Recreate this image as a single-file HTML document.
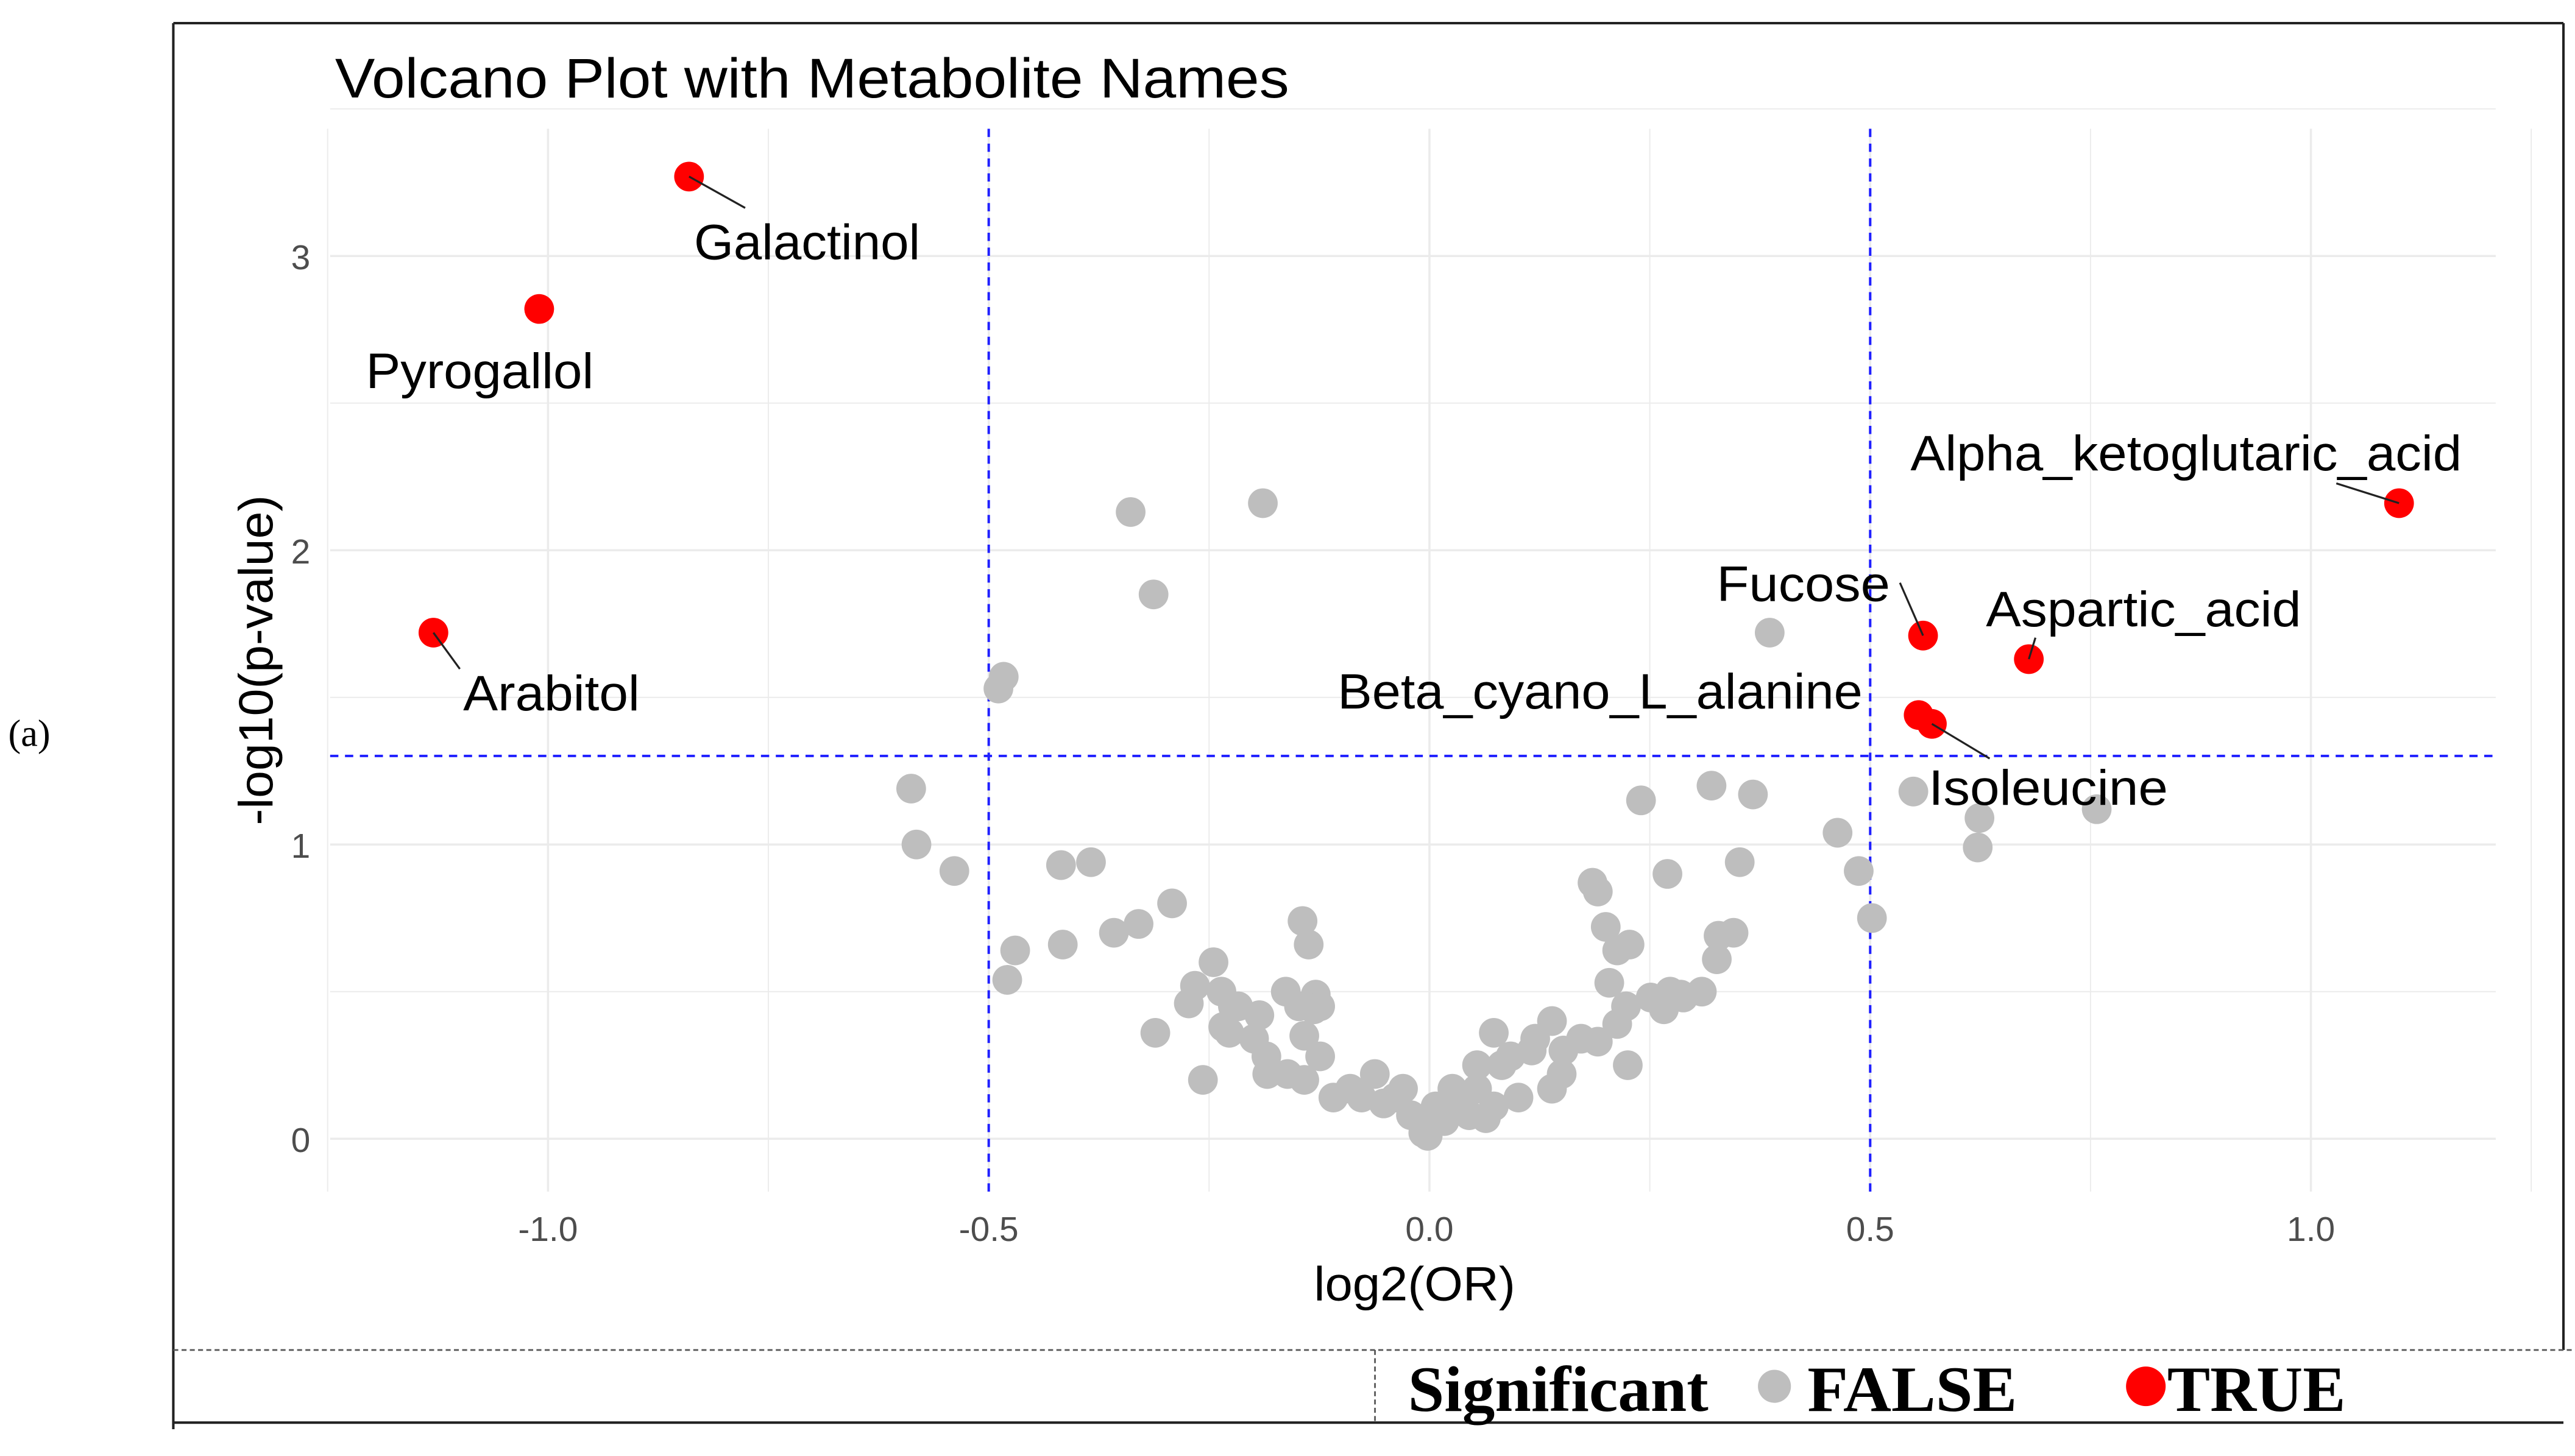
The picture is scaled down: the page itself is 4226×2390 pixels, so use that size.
<!DOCTYPE html>
<html><head><meta charset="utf-8"><style>
html,body{margin:0;padding:0;background:#fff;}
svg{display:block;}
</style></head><body>
<svg id="chart" xmlns="http://www.w3.org/2000/svg" width="4226" height="2390" viewBox="0 0 1560 882.2" font-family="'Liberation Sans', Arial, sans-serif">
<rect x="0" y="0" width="1560" height="882.2" fill="#fff"/>
<text x="5" y="452" font-family="'Liberation Serif', serif" font-size="23">(a)</text>
<line x1="105" y1="14" x2="1553" y2="14" stroke="#222" stroke-width="1.5"/>
<line x1="105" y1="14" x2="105" y2="866" stroke="#222" stroke-width="1.5"/>
<line x1="1553" y1="14" x2="1553" y2="818" stroke="#222" stroke-width="1.5"/>
<line x1="105" y1="818" x2="1560" y2="818" stroke="#555" stroke-width="1" stroke-dasharray="3,2"/>
<line x1="833" y1="818" x2="833" y2="862" stroke="#555" stroke-width="1" stroke-dasharray="3,2"/>
<line x1="105" y1="862" x2="1553" y2="862" stroke="#222" stroke-width="1.5"/>
<text x="203" y="59" font-size="34" textLength="578" lengthAdjust="spacingAndGlyphs">Volcano Plot with Metabolite Names</text>
<g id="grid"></g>
<g id="ticks"></g>
<g id="thresholds"></g>
<g id="points"></g>
<g id="labels"></g>
<text x="857" y="788" font-size="29" text-anchor="middle" textLength="122" lengthAdjust="spacingAndGlyphs">log2(OR)</text>
<text x="0" y="0" font-size="29" text-anchor="middle" transform="translate(165,400) rotate(-90)" textLength="200" lengthAdjust="spacingAndGlyphs">-log10(p-value)</text>
<g>
<text x="853" y="855" font-family="'Liberation Serif', serif" font-weight="bold" font-size="39" textLength="182" lengthAdjust="spacingAndGlyphs">Significant</text>
<circle cx="1075" cy="840" r="10" fill="#bebebe"/>
<text x="1095" y="855" font-family="'Liberation Serif', serif" font-weight="bold" font-size="39" textLength="127" lengthAdjust="spacingAndGlyphs">FALSE</text>
<circle cx="1300" cy="840" r="12" fill="#ff0000"/>
<text x="1313" y="855" font-family="'Liberation Serif', serif" font-weight="bold" font-size="39" textLength="108" lengthAdjust="spacingAndGlyphs">TRUE</text>
</g>
</svg>
<script>
const grayX=[-0.339,-0.189,-0.313,0.386,-0.483,-0.489,-0.588,-0.582,-0.539,0.320,0.367,0.240,0.549,0.463,0.487,0.352,0.502,0.624,0.622,0.757,-0.418,-0.384,-0.470,-0.479,-0.416,-0.358,-0.330,-0.292,-0.144,-0.137,0.185,0.191,0.270,0.328,0.345,0.200,0.213,0.227,0.204,0.223,0.309,0.326,0.251,0.266,0.285,0.225,0.191,0.139,0.150,0.116,0.101,0.073,0.054,0.026,0.021,0.007,-0.007,-0.021,-0.039,-0.062,-0.090,-0.109,-0.124,-0.142,-0.161,-0.184,-0.227,-0.223,-0.257,-0.273,-0.266,-0.245,-0.236,-0.217,-0.193,-0.199,-0.185,-0.148,-0.142,-0.129,-0.124,-0.234,-0.311,-0.163,-0.131,-0.002,0.017,0.045,0.064,0.082,0.092,0.120,0.152,0.172,0.213,0.139,0.288,0.273,0.036,0.054,0.073,0.007,-0.030,-0.052,-0.077];
const grayY=[2.13,2.16,1.85,1.72,1.57,1.53,1.19,1.00,0.91,1.20,1.17,1.15,1.18,1.04,0.91,0.94,0.75,1.09,0.99,1.12,0.93,0.94,0.64,0.54,0.66,0.70,0.73,0.80,0.74,0.66,0.87,0.84,0.90,0.69,0.70,0.72,0.64,0.66,0.53,0.45,0.50,0.61,0.48,0.44,0.49,0.25,0.33,0.17,0.22,0.30,0.14,0.36,0.25,0.17,0.11,0.06,0.02,0.08,0.14,0.22,0.17,0.14,0.28,0.20,0.22,0.22,0.36,0.45,0.20,0.46,0.52,0.60,0.50,0.45,0.42,0.34,0.28,0.45,0.35,0.49,0.45,0.38,0.36,0.50,0.44,0.01,0.06,0.08,0.07,0.25,0.28,0.34,0.30,0.34,0.39,0.40,0.48,0.50,0.14,0.17,0.11,0.11,0.17,0.12,0.14];
const sigNames=["Galactinol","Pyrogallol","Arabitol","Alpha_ketoglutaric_acid","Fucose","Aspartic_acid","Beta_cyano_L_alanine","Isoleucine"];
const sigX=[-0.84,-1.01,-1.13,1.10,0.56,0.68,0.555,0.57];
const sigY=[3.27,2.82,1.72,2.16,1.71,1.63,1.44,1.41];
const xTicks=[-1.0,-0.5,0.0,0.5,1.0];
const xTickLabels=["-1.0","-0.5","0.0","0.5","1.0"];
const yTicks=[0,1,2,3];
const yTickLabels=["0","1","2","3"];
const fcThreshold=0.5;
const pThreshold=1.301;

const NS="http://www.w3.org/2000/svg";
const X0=866, XS=534, Y0=690, YS=178.3;
const PL=200, PR=1512, PT=78, PB=722;
function sx(v){return X0+v*XS;}
function sy(v){return Y0-v*YS;}
function mk(tag,attrs,parent){const e=document.createElementNS(NS,tag);for(const k in attrs)e.setAttribute(k,attrs[k]);parent.appendChild(e);return e;}
const grid=document.getElementById('grid');
for(let v=-1.25;v<=1.2501;v+=0.25){
  const major=Math.abs(v*2-Math.round(v*2))<1e-6;
  const l=mk('line',{x1:sx(v),x2:sx(v),y1:PT,y2:PB,stroke:'#ebebeb','stroke-width':major?1.3:0.7},grid);
  
  
}
for(let v=0;v<=3.5;v+=0.5){
  const major=Number.isInteger(v);
  const l=mk('line',{x1:PL,x2:PR,y1:sy(v),y2:sy(v),stroke:'#ebebeb','stroke-width':major?1.3:0.7},grid);
  
  
}
const ticks=document.getElementById('ticks');
xTicks.forEach((v,i)=>{
  const t=mk('text',{x:sx(v),y:752,'text-anchor':'middle','font-size':21,fill:'#4d4d4d'},ticks);
  t.textContent=xTickLabels[i];
  
  
});
yTicks.forEach((v,i)=>{
  const t=mk('text',{x:188,y:sy(v)+8,'text-anchor':'end','font-size':21,fill:'#4d4d4d'},ticks);
  t.textContent=yTickLabels[i];
  
  
});
const th=document.getElementById('thresholds');
[-fcThreshold,fcThreshold].forEach(v=>{
  const l=mk('line',{x1:sx(v),x2:sx(v),y1:PT,y2:PB,stroke:'#2020ff','stroke-width':1.5,'stroke-dasharray':'5,4'},th);
  
  
});
const hl=mk('line',{x1:PL,x2:PR,y1:sy(pThreshold),y2:sy(pThreshold),stroke:'#2020ff','stroke-width':1.5,'stroke-dasharray':'5,4'},th);


const pts=document.getElementById('points');
grayX.forEach((v,i)=>{
  const c=mk('circle',{cx:sx(v),cy:sy(grayY[i]),r:9,fill:'#bebebe'},pts);
  
  
});
const lab=document.getElementById('labels');
const labelWidths=[137,138,107,334,105,191,318,145];
const lo=[[3,50,'start',[34,19]],[-105,48,'start',null],[18,47,'start',[16,22]],[-296,-20,'start',[-38,-12]],[-125,-21,'start',[-14,-32]],[-26,-20,'start',[4,-13]],[-34,-4,'end',null],[-2,49,'start',[35,21]]];
sigX.forEach((v,i)=>{
  const px=sx(v),py=sy(sigY[i]);
  const o=lo[i];
  if(o[3]){
    const l=mk('line',{x1:px,y1:py,x2:px+o[3][0],y2:py+o[3][1],stroke:'#222','stroke-width':1.2},lab);
    
    
  }
  const c=mk('circle',{cx:px,cy:py,r:9,fill:'#ff0000'},pts);
  
  
  const t=mk('text',{x:px+o[0],y:py+o[1],'text-anchor':o[2],'font-size':30,fill:'#000',textLength:labelWidths[i],lengthAdjust:'spacingAndGlyphs'},lab);
  t.textContent=sigNames[i];
  
  
});
</script>
</body></html>
